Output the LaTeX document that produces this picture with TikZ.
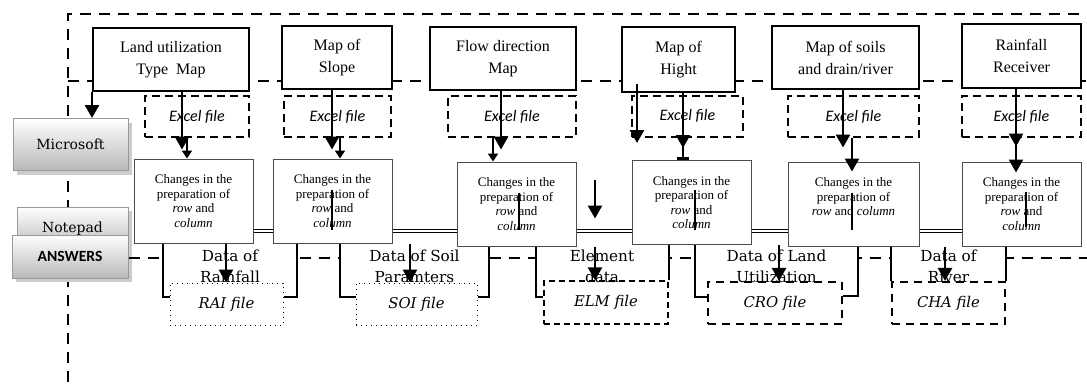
\documentclass[tikz,border=0pt]{standalone}
\usepackage{fontspec}
\setmainfont{Liberation Serif}
\newfontfamily\bookfont{DejaVu Serif}
\newfontfamily\califont{Carlito}
\usetikzlibrary{arrows.meta,shadows}

\begin{document}
\begin{tikzpicture}[x=0.5pt,y=-0.5pt,
    arr/.style={line width=1.3pt,-{Triangle[width=7pt,length=6.5pt]}},
    stub/.style={line width=1.3pt,-{Triangle[width=5pt,length=4pt]}},
    frame/.style={line width=1.2pt,dash pattern=on 5.5pt off 4pt},
    brk/.style={line width=1pt}]

      \useasboundingbox (0,0) rectangle (1087,386);

      \draw[frame] (68,382) -- (68,14) -- (1087,14);
      \draw[frame] (68,81) -- (1087,81);

      \begin{scope}[every node/.style={draw=gray!80, line width=0.5pt, top color=white, bottom color=gray!55,
          drop shadow={shadow xshift=2pt, shadow yshift=-2pt, fill=gray!40, opacity=1},
          inner sep=0pt, font=\bookfont\fontsize{7}{8}\selectfont}]
        \node[minimum width=57.5pt, minimum height=26pt]   (ms)  at (70.5,144.5) {Microsoft};
        \node[minimum width=55.5pt, minimum height=21.5pt] (np)  at (72.5,228.5) {Notepad};
        \node[minimum width=58pt, minimum height=21.5pt, font=\califont\bfseries\fontsize{7.8}{9}\selectfont]
                                                           (ans) at (70,256.5) {ANSWERS};
      \end{scope}

      \draw[frame] (ans.east |- 0,258) -- (1087,258);
      \draw[double, line width=0.6pt, double distance=1.2pt] (253,231) -- (962,231);

      \begin{scope}[every node/.style={draw, line width=1pt, fill=white, align=center, inner sep=0pt,
          font=\fontsize{8}{11}\selectfont}]
        \node[minimum width=78pt, minimum height=31.5pt]   (t1) at (171,59.5)   {Land utilization\\Type~~Map};
        \node[minimum width=55pt, minimum height=31.5pt]   (t2) at (337,57.5)   {Map of\\Slope};
        \node[minimum width=73pt, minimum height=31.5pt]   (t3) at (503,58.5)   {Flow direction\\Map};
        \node[minimum width=56.5pt, minimum height=32.5pt] (t4) at (678.5,59.5) {Map of\\Hight};
        \node[minimum width=73.5pt, minimum height=31.5pt] (t5) at (845.5,57.5) {Map of soils\\and drain/river};
        \node[minimum width=59.5pt, minimum height=32pt]   (t6) at (1021.5,56)  {Rainfall\\Receiver};
      \end{scope}

      \begin{scope}[every node/.style={draw, line width=1pt, dash pattern=on 4pt off 2.5pt, inner sep=0pt,
          minimum height=20.5pt, font=\califont\itshape\fontsize{8}{9}\selectfont}]
        \node[minimum width=52pt]   (x1) at (197,116.5)    {Excel file};
        \node[minimum width=53.5pt] (x2) at (337.5,116.5)  {Excel file};
        \node[minimum width=64pt]   (x3) at (512,116.5)    {Excel file};
        \node[minimum width=55.5pt] (x4) at (687.5,116)    {Excel file};
        \node[minimum width=65.5pt] (x5) at (853.5,116.5)  {Excel file};
        \node[minimum width=59.5pt] (x6) at (1021.5,116.5) {Excel file};
      \end{scope}

      \begin{scope}[every node/.style={draw=black!70, line width=0.5pt, fill=white, align=center, inner sep=0pt,
          minimum width=59.5pt, minimum height=42pt, font=\fontsize{6.5}{7.3}\selectfont}]
        \node (c1) at (193.5,201)  {Changes in the\\preparation of\\\textit{row} and\\\textit{column}};
        \node (c2) at (332.5,201)  {Changes in the\\preparation of\\\textit{row} and\\\textit{column}};
        \node (c3) at (516.5,204)  {Changes in the\\preparation of\\\textit{row} and\\\textit{column}};
        \node (c4) at (691.5,202.5){Changes in the\\preparation of\\\textit{row} and\\\textit{column}};
        \node[minimum width=65.5pt] (c5) at (853.5,204) {Changes in the\\preparation of\\\textit{row} and \textit{column}\\\mbox{}};
        \node (c6) at (1021.5,204) {Changes in the\\preparation of\\\textit{row} and\\\textit{column}};
      \end{scope}

      \begin{scope}[every node/.style={fill=white, align=center, inner sep=0pt,
          font=\bookfont\fontsize{7.6}{10.5}\selectfont}]
        \node[minimum width=67pt]   (d1) at (230,266.5)   {Data of\\Rainfall};
        \node[minimum width=74.5pt] (d2) at (414.5,266.5) {Data of Soil\\Paramters};
        \node[minimum width=66pt]   (d3) at (602,266.5)   {Element\\data};
        \node[minimum width=81.5pt] (d4) at (776.5,266.5) {Data of Land\\Utilization};
        \node[minimum width=56.5pt] (d5) at (948.5,266.5) {Data of\\River};
      \end{scope}

      \begin{scope}[every node/.style={draw, inner sep=0pt, minimum height=21pt,
          font=\bookfont\itshape\fontsize{7.4}{9}\selectfont}]
        \node[dotted, line width=0.5pt, minimum width=56.5pt] (f1) at (226.5,304) {RAI file};
        \node[dotted, line width=0.5pt, minimum width=60.5pt] (f2) at (416.5,304) {SOI file};
        \node[line width=0.7pt, dash pattern=on 3pt off 2pt, minimum width=62pt, minimum height=21.5pt]
                                                               (f3) at (606,302.5) {ELM file};
        \node[line width=1.1pt, dash pattern=on 4pt off 3pt, minimum width=67pt]   (f4) at (775,303)   {CRO file};
        \node[line width=1.1pt, dash pattern=on 4pt off 3pt, minimum width=56.5pt] (f5) at (948.5,303) {CHA file};
      \end{scope}

      \begin{scope}[every path/.style={brk}]
        \draw (c1.south -| 163,0) |- (f1.west |- 0,297);
        \draw (c2.south -| 297,0) |- (f1.east |- 0,297);
        \draw (c2.south -| 340,0) |- (f2.west |- 0,297);
        \draw (c3.south -| 489,0) |- (f2.east |- 0,297);
        \draw (c3.south -| 536,0) |- (f3.west |- 0,297);
        \draw (c4.south -| f3.east) -- (f3.north east);
        \draw (c4.south -| 695,0) |- (f4.west |- 0,297);
        \draw (c5.south -| 858,0) |- (f4.east |- 0,296);
        \draw (c5.south -| f5.west) -- (f5.north west);
        \draw (c6.south -| f5.east) -- (f5.north east);
        \draw (c2.north -| 332,0) ++(0,31) -- ++(0,40);
        \draw (c3.north -| 519,0) ++(0,31) -- ++(0,37);
        \draw (c4.north -| 695,0) ++(0,30) -- ++(0,40);
        \draw (c5.north -| 852,0) ++(0,31) -- ++(0,37);
        \draw (c6.north -| 1026,0) ++(0,30) -- ++(0,35);
      \end{scope}

      \draw[arr] (t1.south west) -- (ms.north -| t1.south west);
      \draw[arr, shorten >=4.5pt] (t1.south -| 182,0) -- (c1.north -| 182,0);
      \draw[stub] (x1.south -| 187,0) -- (c1.north -| 187,0);
      \draw[arr, shorten >=4.5pt] (t2.south -| 332,0) -- (c2.north -| 332,0);
      \draw[stub] (x2.south -| 340,0) -- (c2.north -| 340,0);
      \draw[arr, shorten >=6pt] (t3.south -| 501,0) -- (c3.north -| 501,0);
      \draw[stub] (x3.south -| 493,0) -- (c3.north -| 493,0);
      \draw[arr, shorten <=-4.5pt, shorten >=8.5pt] (t4.south -| 637,0) -- (c4.north -| 637,0);
      \draw[arr, shorten >=6pt] (t4.south -| 683,0) -- (c4.north -| 683,0);
      \draw[line width=1.3pt, -{Bar[width=6pt]}] (x4.south -| 683,0) -- (c4.north -| 683,0);
      \draw[arr, shorten >=7pt] (t5.south -| 843,0) -- (c5.north -| 843,0);
      \draw[arr, shorten >=-5pt] (x5.south -| 852,0) -- (c5.north -| 852,0);
      \draw[arr, shorten >=7.5pt] (t6.south -| 1016,0) -- (c6.north -| 1016,0);
      \draw[arr, shorten >=-5.5pt] (x6.south -| 1016,0) -- (c6.north -| 1016,0);
      \draw[arr, shorten <=9pt, shorten >=14pt] (c3.north -| 595,0) -- (c3.south -| 595,0);

      \draw[arr] (c1.south -| 226,0) -- (f1.north -| 226,0);
      \draw[arr] (c2.south -| 410,0) -- (f2.north -| 410,0);
      \draw[arr] (c3.south -| 595,0) -- (f3.north -| 595,0);
      \draw[arr] (c4.south -| 779,0) -- (f4.north -| 779,0);
      \draw[arr] (c5.south -| 945,0) -- (f5.north -| 945,0);

    \end{tikzpicture}
\end{document}
